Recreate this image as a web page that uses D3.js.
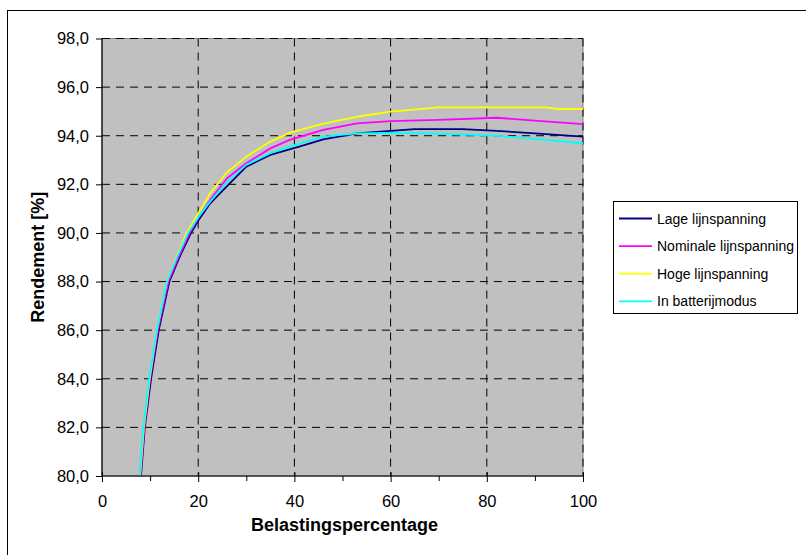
<!DOCTYPE html>
<html><head><meta charset="utf-8">
<script src="https://cdn.jsdelivr.net/npm/d3@7"></script>
<style>body{margin:0;background:#fff}svg{display:block}text{font-family:"Liberation Sans",Arial,sans-serif}</style>
</head><body>
<svg id="c" width="806" height="555"></svg>
<script>
const seriesNames = ["Lage lijnspanning","Nominale lijnspanning","Hoge lijnspanning","In batterijmodus"];
const seriesColors = ["#000080","#FF00FF","#FFFF00","#00FFFF"];
const loadLage = [8.1,8.9,10.2,11.8,14.0,16.1,18.5,20,22.5,26,30,35,41,46,53,60,65,75,82,90,100];
const valLage  = [80,82,84,86,88,89,90,90.5,91.22,91.93,92.73,93.21,93.55,93.85,94.1,94.2,94.27,94.27,94.2,94.1,93.96];
const loadNom  = [8.0,8.8,10.0,11.6,13.8,15.9,18.2,20,22.5,26,30,35,39,46,53,60,70,82,90,100];
const valNom   = [80,82,84,86,88,89,90,90.6,91.36,92.25,92.87,93.48,93.83,94.24,94.51,94.6,94.65,94.74,94.62,94.48];
const loadHoog = [7.9,8.7,9.9,11.4,13.5,15.5,17.6,20,22.5,26,30,35,39,46,53,60,70,80,92,95,100];
const valHoog  = [80,82,84,86,88,89,90,90.8,91.63,92.5,93.14,93.76,94.12,94.5,94.78,94.99,95.17,95.17,95.17,95.1,95.1];
const loadBat  = [7.8,8.6,9.8,11.4,13.5,15.6,17.9,20,22.5,26,30,35,39,46,53,60,67,75,82,90,100];
const valBat   = [80,82,84,86,88,89,90,90.65,91.29,92.11,92.8,93.28,93.55,93.96,94.1,94.12,94.1,94.05,94.0,93.87,93.69];
const xTicks = [0,20,40,60,80,100];
const xMinorTicks = [10,30,50,70,90];
const yTicks = [80,82,84,86,88,90,92,94,96,98];

const series = [[loadLage,valLage],[loadNom,valNom],[loadHoog,valHoog],[loadBat,valBat]];
const svg = d3.select("#c");
const x = d3.scaleLinear([0,100],[102,583]);
const y = d3.scaleLinear([80,98],[476,38.5]);
const fmt = v => v.toFixed(1).replace(".", ",");

svg.append("rect").attr("x",7.5).attr("y",10.5).attr("width",900).attr("height",600)
  .attr("fill","none").attr("stroke","#000").attr("stroke-width",1);

svg.append("rect").attr("x",x(0)).attr("y",y(98)).attr("width",x(100)-x(0)).attr("height",y(80)-y(98))
  .attr("fill","#C0C0C0").attr("stroke","#808080").attr("stroke-width",1);

const g = svg.append("g");
g.selectAll("line.h").data(yTicks.filter(v=>v>80)).join("line")
  .attr("x1",x(0)).attr("x2",x(100)).attr("y1",d=>y(d)).attr("y2",d=>y(d))
  .attr("stroke","#000").attr("stroke-dasharray","8,6").attr("stroke-width",1);
g.selectAll("line.v").data(xTicks.filter(v=>v>0)).join("line")
  .attr("y1",y(98)).attr("y2",y(80)).attr("x1",d=>x(d)).attr("x2",d=>x(d))
  .attr("stroke","#000").attr("stroke-dasharray","8,6").attr("stroke-width",1);

const line = d3.line().x(d=>x(d[0])).y(d=>y(d[1]));
series.forEach((s,i)=>{
  const pts = s[0].map((l,j)=>[l,s[1][j]]);
  svg.append("path").datum(pts).attr("d",line).attr("fill","none")
    .attr("stroke",seriesColors[i]).attr("stroke-width",1.8).attr("stroke-linejoin","round");
});

const yAxis = d3.axisLeft(y).tickValues(yTicks).tickFormat(fmt).tickSize(6).tickPadding(7);
const ya = svg.append("g").attr("transform",`translate(${x(0)},0)`).call(yAxis);
const xAxis = d3.axisBottom(x).tickValues(xTicks).tickFormat(d3.format("d")).tickSize(6).tickPadding(13);
const xa = svg.append("g").attr("transform",`translate(0,${y(80)})`).call(xAxis);
const xm = svg.append("g").attr("transform",`translate(0,${y(80)})`)
  .call(d3.axisBottom(x).tickValues(xMinorTicks).tickFormat("").tickSize(5));
xm.select(".domain").remove();
xa.selectAll(".tick line").attr("y1",-4);
[ya,xa].forEach(a=>{
  a.select(".domain").attr("stroke","#000").attr("stroke-width",1.2);
  a.selectAll("text").attr("font-family","'Liberation Sans',Arial,sans-serif").attr("font-size",16.5).attr("fill","#000");
});
ya.select(".domain").attr("d",`M0,${y(98)}V${y(80)}`);
xa.select(".domain").attr("d",`M${x(0)},0H${x(100)}`).attr("stroke-width",1.6).attr("stroke","#333");

svg.append("text").attr("x",344.5).attr("y",530.5).attr("text-anchor","middle")
  .attr("font-weight","bold").attr("font-size",18).text("Belastingspercentage");
svg.append("text").attr("transform",`translate(44,${(y(98)+y(80))/2}) rotate(-90)`)
  .attr("text-anchor","middle").attr("font-weight","bold").attr("font-size",18).text("Rendement [%]");

const lg = svg.append("g");
lg.append("rect").attr("x",613.5).attr("y",201.5).attr("width",184).attr("height",112)
  .attr("fill","#fff").attr("stroke","#000").attr("stroke-width",1);
seriesNames.forEach((n,i)=>{
  const cy = 218.5 + i*27.6;
  lg.append("line").attr("x1",619).attr("x2",652).attr("y1",cy).attr("y2",cy)
    .attr("stroke",seriesColors[i]).attr("stroke-width",1.8);
  lg.append("text").attr("x",657).attr("y",cy+5).attr("font-size",14).text(n);
});
</script>
</body></html>
